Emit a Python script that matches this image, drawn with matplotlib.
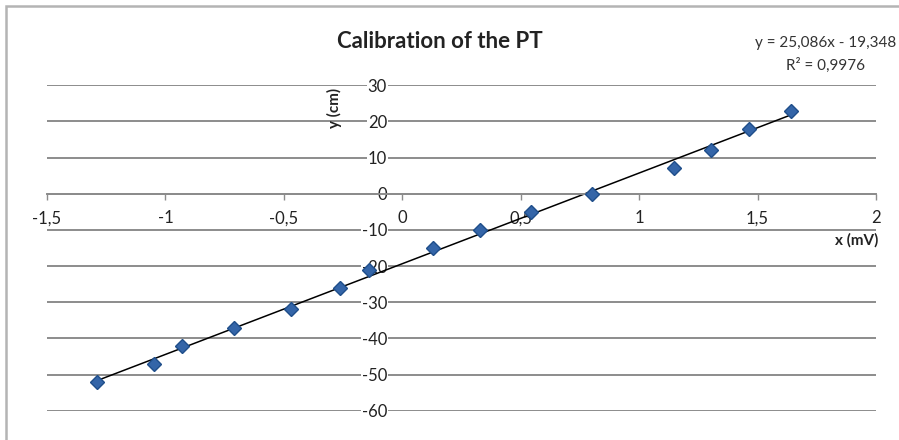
import numpy as np
import matplotlib.pyplot as plt
from matplotlib.ticker import FuncFormatter
from matplotlib.patches import Rectangle

plt.rcParams['font.family'] = ['Lato', 'DejaVu Sans']

# данные калибровки
x_mv = [-1.289, -1.048, -0.932, -0.711, -0.470, -0.263, -0.141, 0.131,
        0.328, 0.543, 0.802, 1.146, 1.302, 1.462, 1.641]
y_cm = [-52, -47, -42, -37, -32, -26, -21, -15,
        -10, -5, 0, 7, 12, 18, 23]

slope, intercept = 25.086, -19.348  # линия тренда
r2 = 0.9976

xticks = [-1.5, -1, -0.5, 0, 0.5, 1, 1.5, 2]
yticks = [-60, -50, -40, -30, -20, -10, 0, 10, 20, 30]

W, H = 899, 440
fig = plt.figure(figsize=(W / 100, H / 100), dpi=100)
ax = fig.add_axes([47 / W, (H - 410.7) / H, 829 / W, 325.4 / H])

comma = FuncFormatter(lambda v, p: ('%g' % v).replace('.', ','))

ax.set_xlim(-1.5, 2)
ax.set_ylim(-60, 30)
ax.set_xticks(xticks)
ax.set_yticks(yticks)
ax.xaxis.set_major_formatter(comma)
ax.yaxis.set_major_formatter(comma)

for s in ['top', 'right', 'left']:
    ax.spines[s].set_visible(False)
ax.spines['bottom'].set_position(('data', 0))
ax.spines['bottom'].set_color('#8c8c8c')
ax.spines['bottom'].set_linewidth(1.4)
ax.spines['left'].set_position(('data', 0))

ax.yaxis.grid(True, color='#8c8c8c', linewidth=1.4)
ax.set_axisbelow(True)

ax.tick_params(axis='x', direction='out', length=4, width=1, color='#8c8c8c',
               pad=8, labelsize=12, labelcolor='#222222')
ax.tick_params(axis='y', length=0, pad=11, labelsize=12, labelcolor='#222222')
for lab in ax.get_yticklabels():
    lab.set_bbox(dict(facecolor='white', edgecolor='none', pad=0.5))

xl = np.array([min(x_mv), max(x_mv)])
ax.plot(xl, slope * xl + intercept, color='black', linewidth=1.1, zorder=2)
ax.plot(x_mv, y_cm, linestyle='none', marker='D', markersize=7,
        markerfacecolor='#3465a8', markeredgecolor='#1f4e8a', markeredgewidth=1,
        zorder=3, clip_on=False)

fig.text(440 / W, 1 - 42 / H, 'Calibration of the PT', ha='center', va='center',
         fontsize=16, fontweight='bold', color='#222222')
fig.text(826 / W, 1 - 43 / H, 'y = 25,086x - 19,348', ha='center', va='center',
         fontsize=11, color='#333333')
fig.text(826 / W, 1 - 65 / H, 'R² = %s' % ('%g' % r2).replace('.', ','),
         ha='center', va='center', fontsize=11, color='#333333')
fig.text(334 / W, 1 - 108 / H, 'y (cm)', ha='center', va='center', rotation=90,
         fontsize=11, fontweight='bold', color='#222222')
fig.text(878 / W, 1 - 240 / H, 'x (mV)', ha='right', va='center',
         fontsize=11, fontweight='bold', color='#222222')

# рамка диаграммы
fig.patches.append(Rectangle((6 / W, -0.1), 1.2, 1 - 6 / H + 0.1,
                             transform=fig.transFigure, fill=False,
                             edgecolor='#b4b4b4', linewidth=1.8))

fig.savefig('out.png', dpi=100)
